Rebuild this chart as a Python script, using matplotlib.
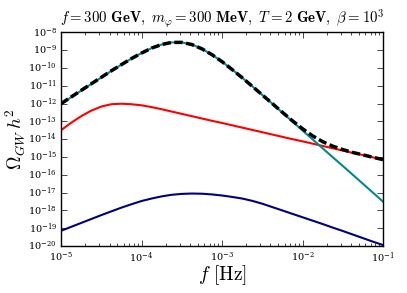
import matplotlib
matplotlib.use('Agg')
import matplotlib.pyplot as plt
import numpy as np

# log10 of frequency grid [Hz]
log_f = [-5.000, -4.875, -4.750, -4.625, -4.500, -4.375, -4.250, -4.125,
         -4.000, -3.875, -3.750, -3.625, -3.500, -3.375, -3.250, -3.125,
         -3.000, -2.875, -2.750, -2.625, -2.500, -2.375, -2.250, -2.125,
         -2.000, -1.875, -1.750, -1.625, -1.500, -1.375, -1.250, -1.125,
         -1.000]

# log10 of Omega_GW h^2
log_sw = [-12.02, -11.65, -11.28, -10.91, -10.54, -10.17, -9.82, -9.48,
          -9.17, -8.89, -8.69, -8.57, -8.57, -8.69, -8.93, -9.26,
          -9.65, -10.09, -10.55, -11.03, -11.52, -12.01, -12.51, -13.01,
          -13.51, -14.01, -14.51, -15.01, -15.50, -16.00, -16.50, -17.00,
          -17.50]
log_turb = [-13.50, -13.08, -12.71, -12.40, -12.17, -12.04, -12.01, -12.04,
            -12.10, -12.20, -12.32, -12.45, -12.58, -12.71, -12.84, -12.97,
            -13.09, -13.22, -13.35, -13.48, -13.61, -13.74, -13.87, -14.00,
            -14.12, -14.25, -14.38, -14.51, -14.64, -14.77, -14.89, -15.02,
            -15.15]
log_coll = [-19.14, -18.92, -18.70, -18.48, -18.26, -18.05, -17.84, -17.65,
            -17.47, -17.33, -17.21, -17.12, -17.07, -17.05, -17.06, -17.10,
            -17.16, -17.24, -17.33, -17.46, -17.62, -17.81, -18.00, -18.19,
            -18.38, -18.57, -18.76, -18.96, -19.15, -19.35, -19.55, -19.75,
            -19.94]

plt.style.use('classic')
plt.rcParams['mathtext.fontset'] = 'cm'
plt.rcParams['font.family'] = 'serif'
plt.rcParams['font.serif'] = ['DejaVu Serif']

freq = 10.0 ** np.array(log_f)
sw = 10.0 ** np.array(log_sw)
turb = 10.0 ** np.array(log_turb)
coll = 10.0 ** np.array(log_coll)
total = sw + turb + coll

fig = plt.figure(figsize=(4.07, 2.93), dpi=100, facecolor='white')
ax = fig.add_axes([0.150, 0.160, 0.791, 0.730])

ax.loglog(freq, coll, color='navy', lw=1.5)
ax.loglog(freq, turb, color='red', lw=1.5)
ax.loglog(freq, sw, color='darkcyan', lw=1.5)
ax.loglog(freq, total, color='black', lw=2.5, linestyle=(0, (6, 2.5)))

ax.set_xlim(1e-5, 1e-1)
ax.set_ylim(1e-20, 1e-8)
ax.set_yticks(10.0 ** np.arange(-20, -7))
ax.tick_params(axis='both', which='major', labelsize=7, pad=3)

ax.set_title(r'$f=300\ \mathbf{GeV,}\ m_\varphi=300\ \mathbf{MeV,}\ T=2\ \mathbf{GeV,}\ \beta=10^3$',
             fontsize=10.7, y=1.01)
ax.set_xlabel(r'$f\ [\mathrm{Hz}]$', fontsize=14, labelpad=-1)
ax.set_ylabel(r'$\Omega_{GW}\,h^2$', fontsize=13.5, labelpad=0)

fig.savefig('out.png', dpi=100, facecolor='white')
